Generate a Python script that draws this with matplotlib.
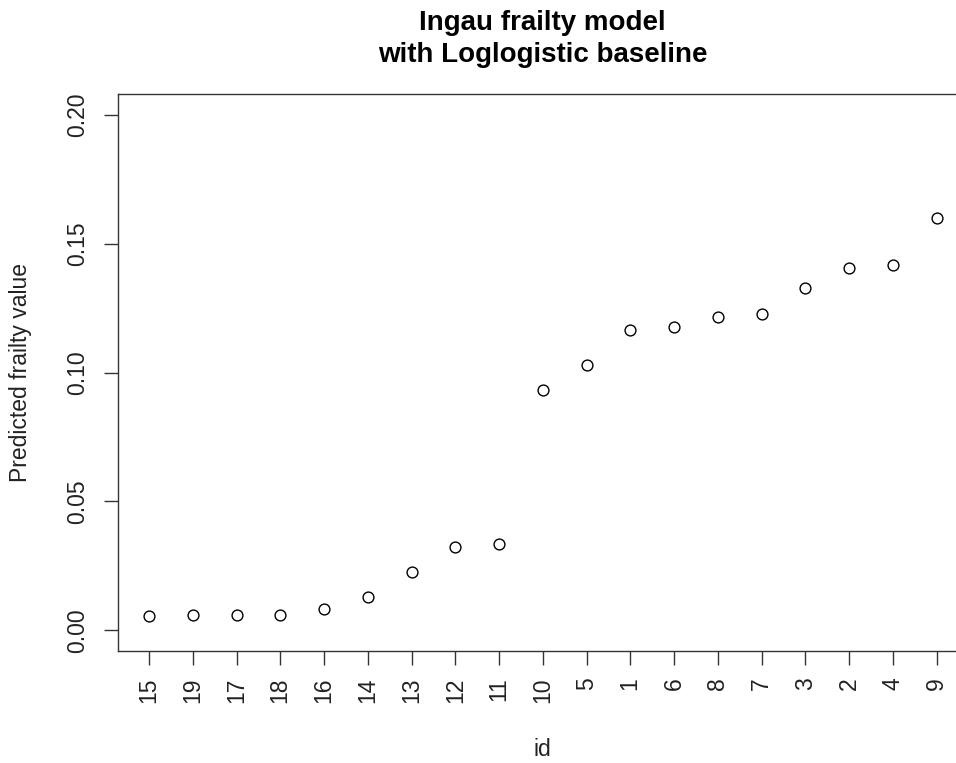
import matplotlib.pyplot as plt

ids = ["15", "19", "17", "18", "16", "14", "13", "12", "11", "10",
       "5", "1", "6", "8", "7", "3", "2", "4", "9"]
frailty = [0.0055, 0.0061, 0.0061, 0.0061, 0.0084, 0.0129, 0.0227, 0.0324, 0.0336, 0.0931,
           0.1028, 0.1166, 0.1177, 0.1217, 0.1228, 0.1326, 0.1406, 0.1416, 0.1601]
y_ticks = [0.00, 0.05, 0.10, 0.15, 0.20]

plt.rcParams['font.family'] = ['Liberation Sans', 'DejaVu Sans']

W, H = 956, 763
fig = plt.figure(figsize=(W / 100, H / 100), dpi=100)

# plot region runs past the right edge of the picture, as in the reference
left, right, top, bottom = 117.5, 968, 94, 651
ax = fig.add_axes([left / W, 1 - bottom / H, (right - left) / W, (bottom - top) / H])

x = list(range(1, len(ids) + 1))
ax.plot(x, frailty, linestyle="none", marker="o", markersize=7.8,
        markerfacecolor="none", markeredgecolor="black", markeredgewidth=1.0)

ax.set_xlim(1 - 0.04 * 18, 19 + 0.04 * 18)
ax.set_ylim(-0.008, 0.208)

ax.set_xticks(x)
ax.set_xticklabels(ids, rotation=90)
ax.set_yticks(y_ticks)
ax.set_yticklabels([f"{v:.2f}" for v in y_ticks], rotation=90, va="center")

for s in ax.spines.values():
    s.set_color("#333333")
    s.set_linewidth(1.0)

ax.tick_params(axis="both", direction="out", length=10, width=1.0,
               color="#333333", labelcolor="#222222", labelsize=16.5)
ax.tick_params(axis="y", pad=10.5)
ax.tick_params(axis="x", pad=9)

ax.set_ylabel("Predicted frailty value", fontsize=16.5, color="#222222", va="center")
ax.yaxis.set_label_coords((20 - left) / (right - left), 0.5)
ax.set_xlabel("id", fontsize=16.5, color="#222222", va="center")
ax.xaxis.set_label_coords(0.5, (bottom - 750) / (bottom - top))

fig.text((left + right) / 2 / W, 1 - 39 / H,
         "Ingau frailty model\nwith Loglogistic baseline",
         ha="center", va="center", fontsize=20, fontweight="bold", linespacing=1.28)

plt.savefig("out.png", dpi=100)
plt.close()
